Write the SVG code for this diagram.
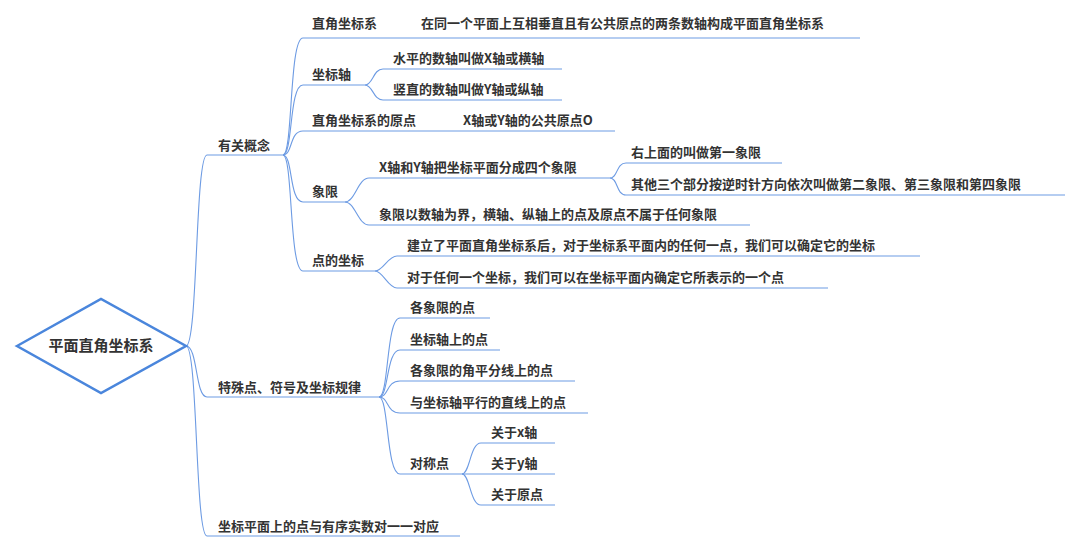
<svg xmlns="http://www.w3.org/2000/svg" width="1080" height="552" viewBox="0 0 1080 552">
<style>
text{font-family:"Noto Sans CJK SC","Noto Sans",sans-serif;font-size:13px;font-weight:bold;fill:#333}
.c path{fill:none;stroke:#6d9be3;stroke-width:1.1}
.root{fill:#fff;stroke:#4a86dc;stroke-width:2.5}
</style>
<rect width="1080" height="552" fill="#fff"/>
<g class="c" id="connectors">
<path d="M186 346 C198 346,195 155,207 155 H283"/>
<path d="M186 346 C198 346,195 397,207 397 H379"/>
<path d="M186 346 C198 346,195 536,207 536 H460"/>
<path d="M283 155 C293 155,289 38,303 38 H860"/>
<path d="M283 155 C293 155,289 85,303 85 H365"/>
<path d="M283 155 C293 155,289 131,303 131 H615"/>
<path d="M283 155 C293 155,289 202,303 202 H345"/>
<path d="M283 155 C293 155,289 271,303 271 H375"/>
<path d="M365 85 C373 85,373 69,383 69 H562"/>
<path d="M365 85 C373 85,373 100,383 100 H562"/>
<path d="M345 202 C355 202,358 178,369 178 H610"/>
<path d="M345 202 C355 202,358 225,369 225 H750"/>
<path d="M610 178 C618 178,616 163,626 163 H782"/>
<path d="M610 178 C618 178,616 195,626 195 H1065"/>
<path d="M375 271 C383 271,388 256,397 256 H920"/>
<path d="M375 271 C383 271,388 288,397 288 H828"/>
<path d="M379 397 C389 397,386 318,400 318 H490"/>
<path d="M379 397 C389 397,386 350,400 350 H500"/>
<path d="M379 397 C389 397,386 381,400 381 H575"/>
<path d="M379 397 C389 397,386 413,400 413 H588"/>
<path d="M379 397 C389 397,386 474,400 474 H462"/>
<path d="M462 474 C470 474,470 443,481 443 H555"/>
<path d="M462 474 C470 474,470 474,481 474 H555"/>
<path d="M462 474 C470 474,470 505,481 505 H555"/>
</g>
<g id="root"><polygon class="root" points="17,346 101,299 186,346 101,393"/><text x="101" y="351" text-anchor="middle" style="font-size:15px">平面直角坐标系</text></g>
<g id="n1"><text x="218" y="150">有关概念</text></g>
<g id="n2"><text x="218" y="392">特殊点、符号及坐标规律</text></g>
<g id="n3"><text x="218" y="531">坐标平面上的点与有序实数对一一对应</text></g>
<g id="n11"><text x="312" y="28">直角坐标系</text><text x="421" y="28">在同一个平面上互相垂直且有公共原点的两条数轴构成平面直角坐标系</text></g>
<g id="n12"><text x="312" y="79">坐标轴</text></g>
<g id="n121"><text x="393" y="63">水平的数轴叫做X轴或横轴</text></g>
<g id="n122"><text x="393" y="94">竖直的数轴叫做Y轴或纵轴</text></g>
<g id="n13"><text x="312" y="125">直角坐标系的原点</text><text x="463" y="125">X轴或Y轴的公共原点O</text></g>
<g id="n14"><text x="312" y="196">象限</text></g>
<g id="n141"><text x="379" y="172">X轴和Y轴把坐标平面分成四个象限</text></g>
<g id="n1411"><text x="631" y="157">右上面的叫做第一象限</text></g>
<g id="n1412"><text x="631" y="189">其他三个部分按逆时针方向依次叫做第二象限、第三象限和第四象限</text></g>
<g id="n142"><text x="379" y="219">象限以数轴为界，横轴、纵轴上的点及原点不属于任何象限</text></g>
<g id="n15"><text x="312" y="265">点的坐标</text></g>
<g id="n151"><text x="407" y="250">建立了平面直角坐标系后，对于坐标系平面内的任何一点，我们可以确定它的坐标</text></g>
<g id="n152"><text x="407" y="282">对于任何一个坐标，我们可以在坐标平面内确定它所表示的一个点</text></g>
<g id="n21"><text x="410" y="312">各象限的点</text></g>
<g id="n22"><text x="410" y="344">坐标轴上的点</text></g>
<g id="n23"><text x="410" y="375">各象限的角平分线上的点</text></g>
<g id="n24"><text x="410" y="407">与坐标轴平行的直线上的点</text></g>
<g id="n25"><text x="410" y="468">对称点</text></g>
<g id="n251"><text x="491" y="437">关于x轴</text></g>
<g id="n252"><text x="491" y="468">关于y轴</text></g>
<g id="n253"><text x="491" y="499">关于原点</text></g>
</svg>
